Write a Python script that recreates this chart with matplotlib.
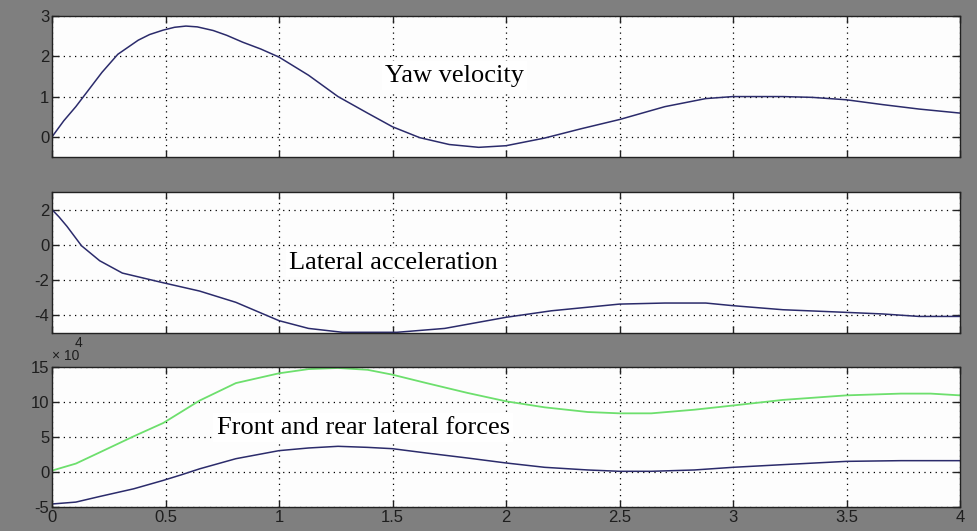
import matplotlib
matplotlib.use("Agg")
import matplotlib.pyplot as plt

# ---------------- data ----------------
t_yaw = [0.0, 0.052, 0.105, 0.22, 0.29, 0.38, 0.43, 0.49, 0.54, 0.59, 0.64, 0.71, 0.77,
         0.84, 0.92, 1.0, 1.13, 1.26, 1.39, 1.5, 1.62, 1.75, 1.88, 2.0, 2.17, 2.33, 2.5,
         2.7, 2.88, 3.0, 3.22, 3.35, 3.5, 3.66, 3.82, 4.0]
yaw_velocity = [0.0, 0.4, 0.75, 1.6, 2.05, 2.4, 2.54, 2.65, 2.72, 2.75, 2.73, 2.64, 2.52,
                2.35, 2.18, 1.98, 1.53, 1.0, 0.59, 0.25, -0.02, -0.19, -0.26, -0.22, -0.03,
                0.2, 0.43, 0.75, 0.95, 1.0, 1.0, 0.98, 0.92, 0.8, 0.69, 0.59]

t_lat = [0.0, 0.0, 0.03, 0.066, 0.13, 0.21, 0.31, 0.49, 0.65, 0.81, 1.0, 1.13, 1.28, 1.52,
         1.73, 2.0, 2.2, 2.5, 2.7, 2.88, 3.0, 3.22, 3.5, 3.66, 3.82, 4.0]
lateral_acceleration = [0.0, 2.0, 1.6, 1.05, -0.05, -0.9, -1.6, -2.15, -2.62, -3.26, -4.3,
                        -4.74, -4.96, -4.96, -4.74, -4.11, -3.74, -3.36, -3.3, -3.3, -3.45,
                        -3.68, -3.83, -3.92, -4.06, -4.06]

t_force = [0.0, 0.105, 0.21, 0.36, 0.49, 0.57, 0.65, 0.81, 1.0, 1.13, 1.26, 1.39, 1.5,
           1.65, 1.83, 2.0, 2.17, 2.36, 2.5, 2.64, 2.83, 3.0, 3.22, 3.5, 3.74, 3.87, 4.0]
force_green_e4 = [0.2, 1.2, 2.8, 5.1, 7.0, 8.6, 10.2, 12.7, 14.1, 14.7, 14.86, 14.6, 13.9,
                  12.7, 11.3, 10.1, 9.24, 8.57, 8.38, 8.38, 8.9, 9.5, 10.3, 10.95, 11.2,
                  11.2, 10.95]
force_blue_e4 = [-4.57, -4.3, -3.5, -2.4, -1.2, -0.4, 0.45, 1.9, 3.05, 3.43, 3.67, 3.52,
                 3.33, 2.71, 2.0, 1.29, 0.67, 0.29, 0.1, 0.1, 0.29, 0.67, 1.05, 1.52, 1.62,
                 1.62, 1.62]

x_ticks = [0, 0.5, 1, 1.5, 2, 2.5, 3, 3.5, 4]
x_tick_labels = ["0", "0.5", "1", "1.5", "2", "2.5", "3", "3.5", "4"]
yaw_ticks = [0, 1, 2, 3]
lat_ticks = [-4, -2, 0, 2]
force_ticks = [-5, 0, 5, 10, 15]

# ---------------- style ----------------
plt.rcParams['axes.unicode_minus'] = False
plt.rcParams['font.family'] = ['Liberation Sans', 'DejaVu Sans']

BG = '#7f7f7f'
NAVY = '#2b2b6b'
GREEN = '#6ddf6d'

fig = plt.figure(figsize=(9.77, 5.31), dpi=100, facecolor=BG)

W = 977.0
H = 531.0
left = 52 / W
width = (960 - 52) / W
ax1 = fig.add_axes([left, (H - 157) / H, width, 141 / H])
ax2 = fig.add_axes([left, (H - 333) / H, width, 141 / H])
ax3 = fig.add_axes([left, (H - 507) / H, width, 140 / H])

def style(ax, yticks, ylim, show_x):
    ax.set_facecolor('#fdfdfd')
    ax.set_xlim(0, 4)
    ax.set_ylim(*ylim)
    ax.set_xticks(x_ticks)
    ax.set_yticks(yticks)
    ax.set_yticklabels([str(v) for v in yticks])
    if show_x:
        ax.set_xticklabels(x_tick_labels)
    else:
        ax.set_xticklabels([])
    ax.tick_params(direction='in', length=5, width=1, top=True, right=True,
                   labelsize=12, labelcolor='#1e1e1e', color='#222222', pad=2)
    ax.grid(True, color='black', linestyle=(0, (1, 3.5)), linewidth=0.9)
    ax.set_axisbelow(True)
    for s in ax.spines.values():
        s.set_color('#222222')
        s.set_linewidth(1.0)

style(ax1, yaw_ticks, (-0.5, 3), False)
style(ax2, lat_ticks, (-5, 3), False)
style(ax3, force_ticks, (-5, 15), True)

ax1.plot(t_yaw, yaw_velocity, color=NAVY, lw=1.1)
ax2.plot(t_lat, lateral_acceleration, color=NAVY, lw=1.1)
ax3.plot(t_force, force_green_e4, color=GREEN, lw=1.3)
ax3.plot(t_force, force_blue_e4, color=NAVY, lw=1.1)

serif = ['Liberation Serif', 'DejaVu Serif']
box = dict(facecolor='white', edgecolor='none', pad=2.5)
ax1.text(1.467, 1.52, "Yaw velocity", family=serif, fontsize=19, va='center', ha='left',
         bbox=box)
ax2.text(1.045, -1.02, "Lateral acceleration", family=serif, fontsize=19, va='center',
         ha='left', bbox=box)
ax3.text(0.726, 6.3, "Front and rear lateral forces", family=serif, fontsize=19,
         va='center', ha='left', bbox=box)

# exponent label
ax3.text(0.0, 1.03, "\u00d7 10", transform=ax3.transAxes, fontsize=10, color='#1e1e1e',
         ha='left', va='bottom')
ax3.text(0.025, 1.12, "4", transform=ax3.transAxes, fontsize=10, color='#1e1e1e',
         ha='left', va='bottom')

fig.savefig("out.png", dpi=100, facecolor=BG)
